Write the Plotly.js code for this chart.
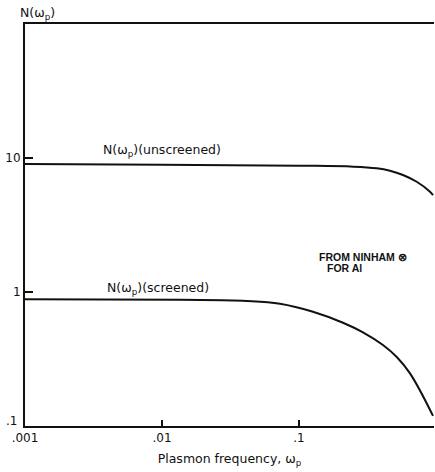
<!DOCTYPE html>
<html>
<head>
<meta charset="utf-8">
<script src="https://cdn.plot.ly/plotly-3.0.1.min.js"></script>
<style>html,body{margin:0;padding:0;background:#fff;}#chart{width:435px;height:472px;}</style>
</head>
<body>
<div id="chart"></div>
<script>
// Unscreened N(wp)
const wpUnscreened = [0.001, 0.01, 0.1016, 0.25, 0.369, 0.461, 0.574, 0.723, 0.904, 0.951];
const nUnscreened  = [9.02, 8.90, 8.76, 8.62, 8.38, 8.04, 7.47, 6.65, 5.61, 5.29];
// Screened N(wp)
const wpScreened = [0.001, 0.01352, 0.0415, 0.0726, 0.1265, 0.2094, 0.293, 0.410, 0.519, 0.646, 0.951];
const nScreened  = [0.882, 0.874, 0.858, 0.818, 0.713, 0.590, 0.500, 0.402, 0.326, 0.247, 0.119];
// Tick labels
const xTickVals = [0.001, 0.01, 0.1];
const xTickText = ['.001', '.01', '.1'];
const yTickVals = [1, 10];
const yTickText = ['1', '10'];
const yBottomLabel = '.1';

const FONT = 'DejaVu Sans, sans-serif';
const lineStyle = {color: '#111', width: 2, shape: 'spline', smoothing: 1.1};
const traces = [
  {x: wpUnscreened, y: nUnscreened, mode: 'lines', line: lineStyle, hoverinfo: 'skip'},
  {x: wpScreened, y: nScreened, mode: 'lines', line: lineStyle, hoverinfo: 'skip'}
];
const layout = {
  width: 435, height: 472,
  margin: {l: 25, r: 1, t: 24, b: 46},
  paper_bgcolor: '#fff', plot_bgcolor: '#fff',
  showlegend: false,
  font: {family: FONT, size: 12, color: '#111'},
  xaxis: {
    type: 'log', range: [-3, -0.0146],
    tickvals: xTickVals, ticktext: xTickText,
    ticks: 'inside', ticklen: 6, tickwidth: 1.5, tickcolor: '#111',
    showline: true, linecolor: '#111', linewidth: 2, mirror: true,
    showgrid: false, zeroline: false,
    tickfont: {family: FONT, size: 12, color: '#111'},
    title: {text: 'Plasmon frequency, ω<sub>p</sub>', font: {family: FONT, size: 12.5, color: '#111'}, standoff: 10}
  },
  yaxis: {
    type: 'log', range: [-1, 2],
    tickvals: yTickVals, ticktext: yTickText,
    ticks: 'inside', ticklen: 8, tickwidth: 1.5, tickcolor: '#111',
    showline: true, linecolor: '#111', linewidth: 2, mirror: false,
    showgrid: false, zeroline: false,
    tickfont: {family: FONT, size: 12, color: '#111'}
  },
  annotations: [
    {xref: 'paper', yref: 'paper', x: -0.015, y: 0.013, xanchor: 'right', yanchor: 'middle', showarrow: false, text: yBottomLabel, font: {family: FONT, size: 12, color: '#111'}},
    {xref: 'paper', yref: 'paper', x: -0.017, y: 1.027, xanchor: 'left', yanchor: 'middle', showarrow: false, text: 'N(ω<sub>p</sub>)', font: {family: FONT, size: 12.5, color: '#111'}},
    {xref: 'paper', yref: 'paper', x: 0.186, y: 0.685, xanchor: 'left', yanchor: 'middle', showarrow: false, text: 'N(ω<sub>p</sub>)(unscreened)', font: {family: FONT, size: 12.5, color: '#111'}},
    {xref: 'paper', yref: 'paper', x: 0.196, y: 0.343, xanchor: 'left', yanchor: 'middle', showarrow: false, text: 'N(ω<sub>p</sub>)(screened)', font: {family: FONT, size: 12.5, color: '#111'}},
    {xref: 'paper', yref: 'paper', x: 0.714, y: 0.420, xanchor: 'left', yanchor: 'middle', showarrow: false, text: '<b>FROM NINHAM ⊗</b>', font: {family: 'Liberation Sans, sans-serif', size: 10.5, color: '#111'}},
    {xref: 'paper', yref: 'paper', x: 0.733, y: 0.393, xanchor: 'left', yanchor: 'middle', showarrow: false, text: '<b>FOR Al</b>', font: {family: 'Liberation Sans, sans-serif', size: 10.5, color: '#111'}}
  ]
};
Plotly.newPlot('chart', traces, layout, {displayModeBar: false, staticPlot: true});
</script>
</body>
</html>
